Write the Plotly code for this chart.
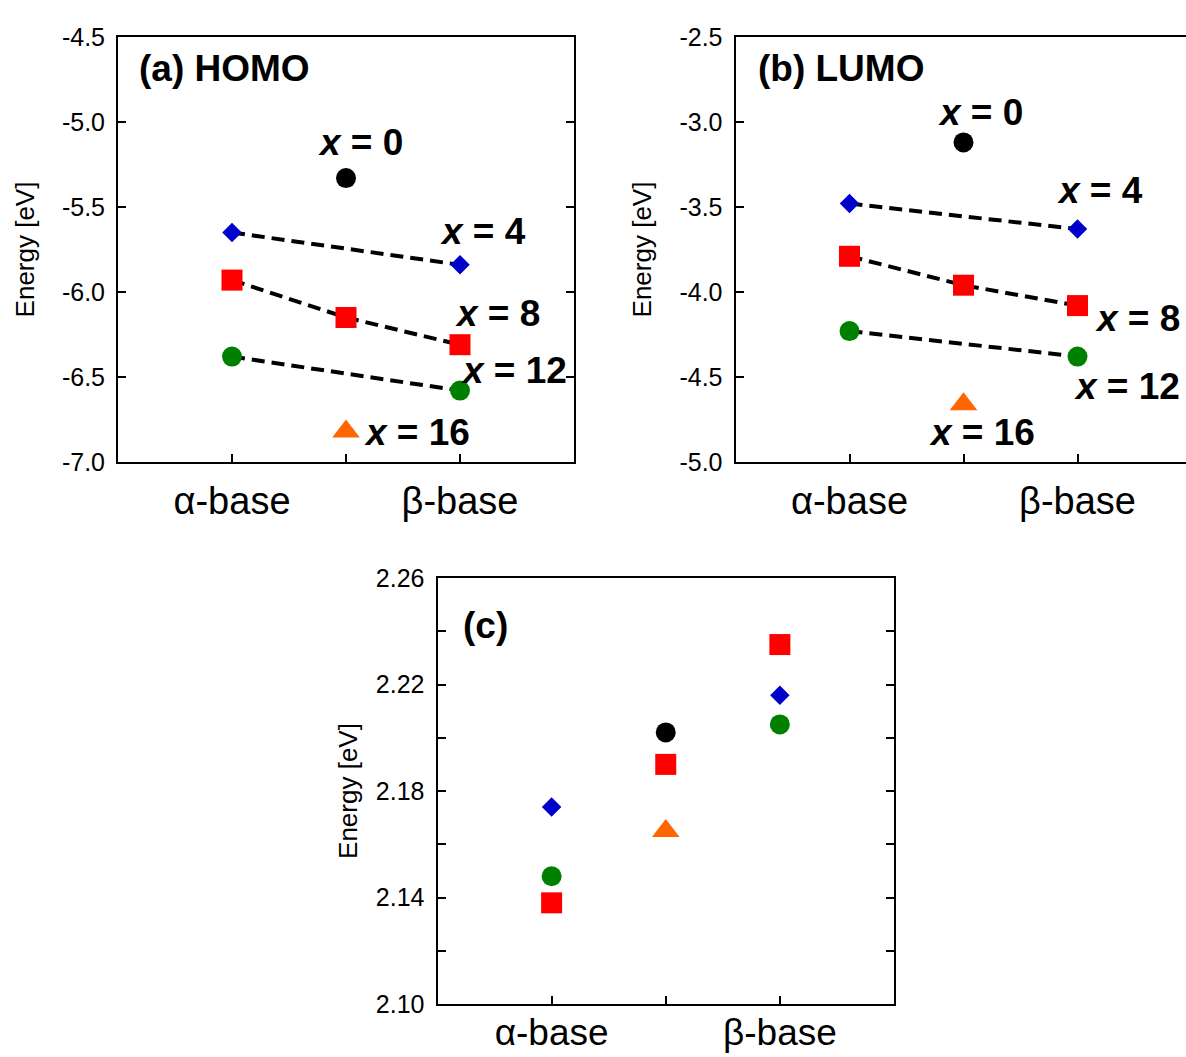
import plotly.graph_objects as go

# ---------------- data ----------------
categories = ["α-base", "mid", "β-base"]
tick_text = ["α-base", "", "β-base"]

series_names = ["x = 0", "x = 4", "x = 8", "x = 12", "x = 16"]

homo_x0 = [None, -5.33, None]
homo_x4 = [-5.65, None, -5.84]
homo_x8 = [-5.93, -6.15, -6.31]
homo_x12 = [-6.38, None, -6.58]
homo_x16 = [None, -6.82, None]

lumo_x0 = [None, -3.12, None]
lumo_x4 = [-3.48, None, -3.63]
lumo_x8 = [-3.79, -3.96, -4.08]
lumo_x12 = [-4.23, None, -4.38]
lumo_x16 = [None, -4.66, None]

gap_x0 = [None, 2.202, None]
gap_x4 = [2.174, None, 2.216]
gap_x8 = [2.138, 2.190, 2.235]
gap_x12 = [2.148, None, 2.205]
gap_x16 = [None, 2.165, None]

homo_ticks = [-7.0, -6.5, -6.0, -5.5, -5.0, -4.5]
homo_tick_text = ["-7.0", "-6.5", "-6.0", "-5.5", "-5.0", "-4.5"]
lumo_ticks = [-5.0, -4.5, -4.0, -3.5, -3.0, -2.5]
lumo_tick_text = ["-5.0", "-4.5", "-4.0", "-3.5", "-3.0", "-2.5"]
gap_ticks = [2.10, 2.14, 2.18, 2.22, 2.26]
gap_tick_text = ["2.10", "2.14", "2.18", "2.22", "2.26"]

homo = [homo_x0, homo_x4, homo_x8, homo_x12, homo_x16]
lumo = [lumo_x0, lumo_x4, lumo_x8, lumo_x12, lumo_x16]
gap = [gap_x0, gap_x4, gap_x8, gap_x12, gap_x16]

# ---------------- styles ----------------
colors = ["#000000", "#0000CC", "#FF0000", "#008000", "#FF6600"]
symbols = ["circle", "diamond", "square", "circle", "triangle-up"]
sizes = [20, 15, 21, 20, 24]
dashed = [False, True, True, True, False]

W, H = 1186, 1057
FONT = "Liberation Sans, Arial, sans-serif"

fig = go.Figure()


def add_panel(data, xa, ya, with_lines):
    for vals, c, s, sz, d, nm in zip(data, colors, symbols, sizes, dashed, series_names):
        mode = "lines+markers" if (with_lines and d) else "markers"
        fig.add_trace(go.Scatter(
            x=categories, y=vals, mode=mode, name=nm,
            xaxis=xa, yaxis=ya, connectgaps=True,
            line=dict(color="black", width=4, dash="13px,7px"),
            marker=dict(color=c, symbol=s, size=sz, line=dict(width=0)),
            showlegend=False, cliponaxis=False,
        ))


add_panel(homo, "x", "y", True)
add_panel(lumo, "x2", "y2", True)
add_panel(gap, "x3", "y3", False)


def px_x(p):
    return p / W


def px_y(p):
    return 1 - p / H


common_x = dict(
    type="category", categoryorder="array", categoryarray=categories,
    tickvals=categories, ticktext=tick_text,
    showline=True, linecolor="black", linewidth=2, mirror=True,
    ticks="inside", ticklen=8, tickwidth=2, tickcolor="black",
    tickfont=dict(family=FONT, size=38, color="black"),
    ticklabelstandoff=4, automargin=False,
    showgrid=False, zeroline=False, fixedrange=True,
)


def ytitle(standoff):
    return dict(text="Energy [eV]", font=dict(family=FONT, size=26, color="black"), standoff=standoff)


common_y = dict(
    showline=True, linecolor="black", linewidth=2, mirror="ticks",
    ticks="inside", ticklen=8, tickwidth=2, tickcolor="black",
    tickfont=dict(family=FONT, size=25, color="black"),
    ticklabelstandoff=6, automargin=False,
    showgrid=False, zeroline=False, fixedrange=True,
)

fig.update_layout(
    width=W, height=H, margin=dict(l=0, r=0, t=0, b=0, autoexpand=False),
    paper_bgcolor="white", plot_bgcolor="white",
    xaxis=dict(common_x, domain=[px_x(118), px_x(574)], range=[-1, 3], anchor="y"),
    yaxis=dict(common_y, domain=[px_y(462), px_y(37)], range=[-7.0, -4.5], title=ytitle(20),
               tickvals=homo_ticks, ticktext=homo_tick_text, anchor="x"),
    xaxis2=dict(common_x, domain=[px_x(735.5), 1.0], range=[-1, -1 + (W - 735.5) / 114.0], anchor="y2"),
    yaxis2=dict(common_y, domain=[px_y(462), px_y(37)], range=[-5.0, -2.5], mirror=False, title=ytitle(20),
                tickvals=lumo_ticks, ticktext=lumo_tick_text, anchor="x2"),
    # right-hand tick stubs of panel (b), whose frame is cut by the page edge
    yaxis4=dict(domain=[px_y(462), px_y(37)], range=[-5.0, -2.5], overlaying="y2", side="right",
                anchor="x2", tickvals=lumo_ticks, showticklabels=False, showline=False,
                ticks="inside", ticklen=4, tickwidth=2, tickcolor="black",
                showgrid=False, zeroline=False, fixedrange=True, automargin=False),
    xaxis3=dict(common_x, domain=[px_x(437.5), px_x(894)], range=[-1, 3], anchor="y3",
                ticklabelstandoff=-5, tickfont=dict(family=FONT, size=37, color="black")),
    yaxis3=dict(common_y, domain=[px_y(1004), px_y(578)], range=[2.10, 2.26], title=ytitle(11),
                tickvals=gap_ticks, ticktext=gap_tick_text, anchor="x3",
                minor=dict(dtick=0.02, tick0=2.10, ticks="inside", ticklen=8, tickwidth=2,
                           tickcolor="black")),
)

BOLD = dict(family=FONT, size=37, color="black")


def lab(text, x, y, xr, yr, xanchor="center"):
    fig.add_annotation(text=text, x=x, y=y, xref=xr, yref=yr, showarrow=False,
                       xanchor=xanchor, yanchor="middle", font=BOLD)


def xlab(n):
    return "<b><i>x</i> = %s</b>" % n


# panel (a) labels (positions in axis units)
lab("<b>(a) HOMO</b>", -0.833, -4.688, "x", "y", "left")
lab(xlab(0), 1.13, -5.118, "x", "y")
lab(xlab(4), 2.20, -5.647, "x", "y")
lab(xlab(8), 2.33, -6.129, "x", "y")
lab(xlab(12), 2.47, -6.459, "x", "y")
lab(xlab(16), 1.62, -6.824, "x", "y")

# panel (b) labels
lab("<b>(b) LUMO</b>", -0.82, -2.688, "x2", "y2", "left")
lab(xlab(0), 1.145, -2.947, "x2", "y2")
lab(xlab(4), 2.197, -3.40, "x2", "y2")
lab(xlab(8), 2.53, -4.153, "x2", "y2")
lab(xlab(12), 2.43, -4.553, "x2", "y2")
lab(xlab(16), 1.16, -4.824, "x2", "y2")

# panel (c) label
lab("<b>(c)</b>", -0.794, 2.242, "x3", "y3", "left")

fig.write_html("out.html")
